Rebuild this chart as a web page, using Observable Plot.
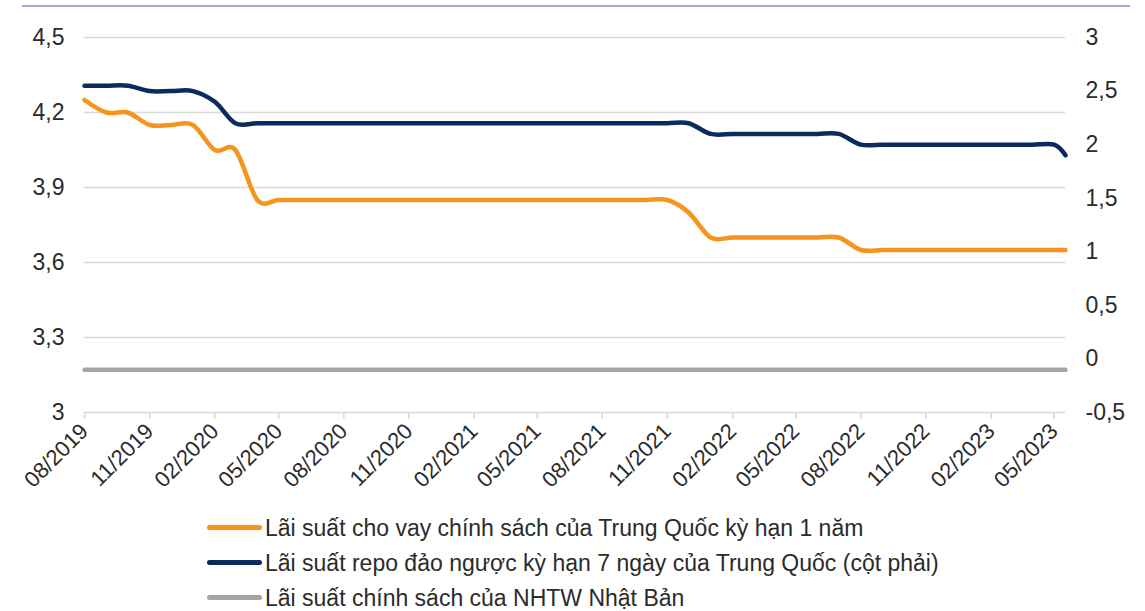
<!DOCTYPE html>
<html><head><meta charset="utf-8">
<script src="https://cdn.jsdelivr.net/npm/d3@7"></script>
<script src="https://cdn.jsdelivr.net/npm/@observablehq/plot@0.6"></script>
<style>
body{margin:0;background:#fff;font-family:"Liberation Sans",Arial,sans-serif;}
#wrap{position:relative;width:1145px;height:611px;overflow:hidden;}
#topline{position:absolute;left:22px;top:5px;width:1108px;height:2px;background:#a7a7da;}
#legend{position:absolute;left:207px;top:510px;}
.item{display:flex;align-items:center;height:35px;font-size:23px;line-height:24px;color:#2b2b2b;white-space:nowrap;}
.sw{width:55px;height:5px;border-radius:3px;margin-right:3px;}
</style></head><body>
<div id="wrap"><div id="chart"></div><div id="topline"></div><div id="legend"></div></div>
<script>
const months = ["2019-08-01","2019-09-01","2019-10-01","2019-11-01","2019-12-01",
  "2020-01-01","2020-02-01","2020-03-01","2020-04-01","2020-05-01","2020-06-01","2020-07-01","2020-08-01","2020-09-01","2020-10-01","2020-11-01","2020-12-01",
  "2021-01-01","2021-02-01","2021-03-01","2021-04-01","2021-05-01","2021-06-01","2021-07-01","2021-08-01","2021-09-01","2021-10-01","2021-11-01","2021-12-01",
  "2022-01-01","2022-02-01","2022-03-01","2022-04-01","2022-05-01","2022-06-01","2022-07-01","2022-08-01","2022-09-01","2022-10-01","2022-11-01","2022-12-01",
  "2023-01-01","2023-02-01","2023-03-01","2023-04-01","2023-05-01","2023-05-17"];
// Left axis
const chinaLoan1Y = [4.25,4.20,4.20,4.15,4.15,
  4.15,4.05,4.05,3.85,3.85,3.85,3.85,3.85,3.85,3.85,3.85,3.85,
  3.85,3.85,3.85,3.85,3.85,3.85,3.85,3.85,3.85,3.85,3.85,3.80,
  3.70,3.70,3.70,3.70,3.70,3.70,3.70,3.65,3.65,3.65,3.65,3.65,
  3.65,3.65,3.65,3.65,3.65,3.65];
// Right axis
const chinaRepo7D = [2.55,2.55,2.55,2.50,2.50,
  2.50,2.40,2.20,2.20,2.20,2.20,2.20,2.20,2.20,2.20,2.20,2.20,
  2.20,2.20,2.20,2.20,2.20,2.20,2.20,2.20,2.20,2.20,2.20,2.20,
  2.10,2.10,2.10,2.10,2.10,2.10,2.10,2.00,2.00,2.00,2.00,2.00,
  2.00,2.00,2.00,2.00,2.00,1.90];
// Right axis
const japanPolicy = [-0.1,-0.1,-0.1,-0.1,-0.1,
  -0.1,-0.1,-0.1,-0.1,-0.1,-0.1,-0.1,-0.1,-0.1,-0.1,-0.1,-0.1,
  -0.1,-0.1,-0.1,-0.1,-0.1,-0.1,-0.1,-0.1,-0.1,-0.1,-0.1,-0.1,
  -0.1,-0.1,-0.1,-0.1,-0.1,-0.1,-0.1,-0.1,-0.1,-0.1,-0.1,-0.1,
  -0.1,-0.1,-0.1,-0.1,-0.1,-0.1];
const seriesNames = ["Lãi suất cho vay chính sách của Trung Quốc kỳ hạn 1 năm",
  "Lãi suất repo đảo ngược kỳ hạn 7 ngày của Trung Quốc (cột phải)",
  "Lãi suất chính sách của NHTW Nhật Bản"];
const seriesColors = ["#f7941d","#0c2a5e","#a5a5a5"];
const leftTicks = [3,3.3,3.6,3.9,4.2,4.5];
const rightTicks = [-0.5,0,0.5,1,1.5,2,2.5,3];
const xTickLabels = ["08/2019","11/2019","02/2020","05/2020","08/2020","11/2020","02/2021","05/2021",
  "08/2021","11/2021","02/2022","05/2022","08/2022","11/2022","02/2023","05/2023"];

const L0 = 3, L1 = 4.5, R0 = -0.5, R1 = 3;
const toLeft = v => L0 + (v - R0) * (L1 - L0) / (R1 - R0);
const fromLeft = l => R0 + (l - L0) * (R1 - R0) / (L1 - L0);
const fmt = v => String(+(+v).toFixed(2)).replace(".", ",");
const parse = d3.utcParse("%Y-%m-%d");
const parseTick = d3.utcParse("%m/%Y");
const rows = months.map((m, i) => ({
  date: parse(m), loan: chinaLoan1Y[i], repo: toLeft(chinaRepo7D[i]), jp: toLeft(japanPolicy[i])
}));
const xTicks = xTickLabels.map(parseTick);

const plot = Plot.plot({
  width: 1145, height: 500,
  marginLeft: 84, marginRight: 80, marginTop: 37, marginBottom: 88,
  style: {fontFamily: '"Liberation Sans", Arial, sans-serif', fontSize: "23px", color: "#2b2b2b", background: "white"},
  x: {type: "utc", domain: [rows[0].date, rows[rows.length - 1].date]},
  y: {domain: [L0, L1]},
  marks: [
    Plot.ruleY(leftTicks, {stroke: "#d9d9d9", strokeWidth: 1.5}),
    Plot.axisY({ticks: leftTicks, tickSize: 0, tickPadding: 20, tickFormat: fmt, anchor: "left", label: null, fontSize: 23}),
    Plot.axisY({ticks: rightTicks.map(toLeft), tickSize: 0, tickPadding: 20, tickFormat: d => fmt(fromLeft(d)), anchor: "right", label: null, fontSize: 23}),
    Plot.axisX({ticks: xTicks, tickFormat: d3.utcFormat("%m/%Y"), tickRotate: -45, tickSize: 7, tickPadding: 8,
      stroke: "#d9d9d9", strokeWidth: 1.5, fill: "#2b2b2b", label: null, fontSize: 22}),
    Plot.line(rows, {x: "date", y: "jp", stroke: seriesColors[2], strokeWidth: 4.5, curve: "cardinal"}),
    Plot.line(rows, {x: "date", y: "repo", stroke: seriesColors[1], strokeWidth: 4.5, curve: "cardinal"}),
    Plot.line(rows, {x: "date", y: "loan", stroke: seriesColors[0], strokeWidth: 4.5, curve: "cardinal"})
  ]
});
document.getElementById("chart").appendChild(plot);

const legend = d3.select("#legend");
seriesNames.forEach((n, i) => {
  const it = legend.append("div").attr("class", "item");
  it.append("div").attr("class", "sw").style("background", seriesColors[i]);
  it.append("span").text(n);
});
</script>
</body></html>
